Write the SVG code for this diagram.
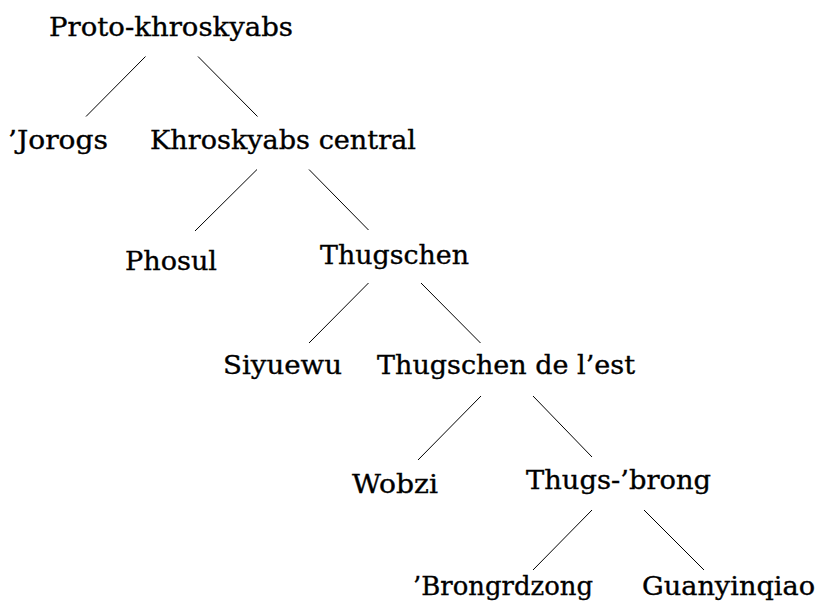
<svg xmlns="http://www.w3.org/2000/svg" width="823" height="611" viewBox="0 0 823 611">
<style>
text{font-family:"DejaVu Serif","Liberation Serif",serif;font-size:26px;fill:#000;stroke:#000;stroke-width:0.35}
.e line{stroke:#000;stroke-width:1}
</style>
<rect width="823" height="611" fill="#fff"/>
<g class="e" id="edges">
<line x1="145.5" y1="56.5" x2="86" y2="116.5"/>
<line x1="198" y1="56.5" x2="257.5" y2="116.5"/>
<line x1="257" y1="169.5" x2="195" y2="231"/>
<line x1="309" y1="169.5" x2="368.5" y2="230"/>
<line x1="368.5" y1="283" x2="309" y2="343"/>
<line x1="421" y1="283" x2="480.5" y2="343"/>
<line x1="481" y1="396" x2="418" y2="460"/>
<line x1="533" y1="396" x2="592" y2="457"/>
<line x1="592" y1="510" x2="533" y2="570"/>
<line x1="644" y1="510" x2="704" y2="570"/>
</g>
<g id="n-proto"><text x="49" y="36" textLength="244" lengthAdjust="spacingAndGlyphs">Proto-khroskyabs</text></g>
<g id="n-jorogs"><text x="8" y="149" textLength="100" lengthAdjust="spacingAndGlyphs">’Jorogs</text></g>
<g id="n-khcentral"><text x="150" y="149" textLength="266" lengthAdjust="spacingAndGlyphs">Khroskyabs central</text></g>
<g id="n-phosul"><text x="125" y="270" textLength="92" lengthAdjust="spacingAndGlyphs">Phosul</text></g>
<g id="n-thugschen"><text x="320" y="264" textLength="149" lengthAdjust="spacingAndGlyphs">Thugschen</text></g>
<g id="n-siyuewu"><text x="223" y="374" textLength="119" lengthAdjust="spacingAndGlyphs">Siyuewu</text></g>
<g id="n-thugschen-est"><text x="377" y="374" textLength="258" lengthAdjust="spacingAndGlyphs">Thugschen de l’est</text></g>
<g id="n-wobzi"><text x="352" y="493" textLength="86" lengthAdjust="spacingAndGlyphs">Wobzi</text></g>
<g id="n-thugsbrong"><text x="526" y="489" textLength="185" lengthAdjust="spacingAndGlyphs">Thugs-’brong</text></g>
<g id="n-brongrdzong"><text x="413" y="595" textLength="180" lengthAdjust="spacingAndGlyphs">’Brongrdzong</text></g>
<g id="n-guanyinqiao"><text x="642" y="595" textLength="173" lengthAdjust="spacingAndGlyphs">Guanyinqiao</text></g>
</svg>
